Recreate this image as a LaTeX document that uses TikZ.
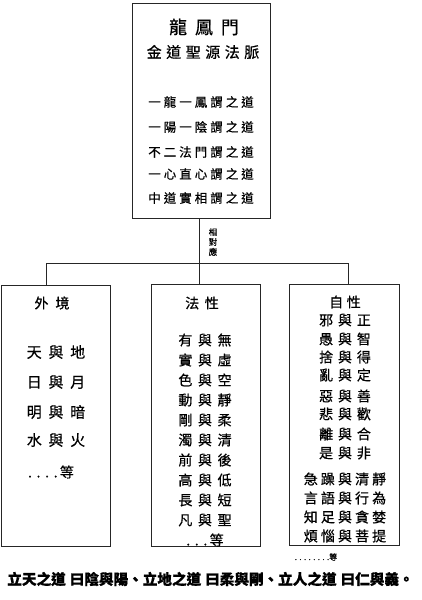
\documentclass[tikz,border=0pt]{standalone}
\usepackage{fontspec}
\newfontfamily\cjk{Noto Sans CJK TC}[FakeBold=0.6]
\usetikzlibrary{positioning}
\tikzset{
  box/.style={draw=black!85, line width=1pt, inner sep=0pt},
  link/.style={draw=black!85, line width=1pt},
  word/.style={inner sep=0pt, font=\cjk\fontsize{14}{14}\selectfont\addfontfeature{LetterSpace=40}},
}

\begin{document}
\begin{tikzpicture}[x=1pt,y=-1pt]
\useasboundingbox[fill=white] (0,0) rectangle (421,600);

% boxes
\node[box, minimum width=138, minimum height=215] (top) at (201,110.5) {};
\node[box, minimum width=109, minimum height=261] (lbox) at (55.5,415.5) {};
\node[box, minimum width=109, minimum height=262] (mbox) at (205.5,415) {};
\node[box, minimum width=110, minimum height=261] (rbox) at (344,414.5) {};

% connectors
\coordinate (hub) at (199,263);
\coordinate (ldrop) at (46,263);
\coordinate (rdrop) at (348,263);
\draw[link] (top.south -| hub) -- (hub);
\draw[link] (ldrop) -- (rdrop);
\draw[link] (ldrop) -- (ldrop |- lbox.north);
\draw[link] (hub) -- (hub |- mbox.north);
\draw[link] (rdrop) -- (rdrop |- rbox.north);
\node[inner sep=0pt, font=\cjk\fontsize{8.5}{10}\selectfont, align=center] (corr) at (213,242) {相\\對\\應};

% top box
\node[word, font=\cjk\fontsize{18}{18}\selectfont\addfontfeature{LetterSpace=44}] (title) at (204,27) {龍鳳門};
\node[word, font=\cjk\fontsize{15}{15}\selectfont\addfontfeature{LetterSpace=30}] (sub) at (203,52) {金道聖源法脈};
\foreach \t/\y [count=\i] in {一龍一鳳謂之道/102, 一陽一陰謂之道/127, 不二法門謂之道/152, 一心直心謂之道/174, 中道實相謂之道/198}
  \node[word, font=\cjk\fontsize{12.5}{12.5}\selectfont\addfontfeature{LetterSpace=24}] (t\i) at (201,\y) {\t};

% left box
\node[word, font=\cjk\fontsize{14}{14}\selectfont\addfontfeature{LetterSpace=50}] (lhead) at (52,303) {外境};
\foreach \t/\y [count=\i] in {天與地/352, 日與月/382, 明與暗/412, 水與火/440}
  \node[word, font=\cjk\fontsize{15}{15}\selectfont\addfontfeature{LetterSpace=45}] (l\i) at (56,\y) {\t};
\node[word, font=\cjk\fontsize{14}{14}\selectfont] (lmore) at (51,472) {.\,\,.\,\,.\,\,.\,等};

% middle box
\node[word] (mhead) at (202,303) {法性};
\foreach \t/\y [count=\i] in {有與無/340, 實與虛/360, 色與空/380, 動與靜/400, 剛與柔/420, 濁與清/440, 前與後/460, 高與低/480, 長與短/500, 凡與聖/520}
  \node[word] (m\i) at (205,\y) {\t};
\node[word, font=\cjk\fontsize{14}{14}\selectfont] (mmore) at (205,540) {.\,\,.\,\,.\,等};

% right box
\node[word, font=\cjk\fontsize{14}{14}\selectfont\addfontfeature{LetterSpace=25}] (rhead) at (345,302) {自性};
\foreach \t/\y [count=\i] in {邪與正/320, 愚與智/339, 捨與得/357, 亂與定/375, 惡與善/396, 悲與歡/414, 離與合/434, 是與非/453}
  \node[word, font=\cjk\fontsize{14}{14}\selectfont\addfontfeature{LetterSpace=35}] (r\i) at (345,\y) {\t};
\foreach \t/\y [count=\i] in {急躁與清靜/479, 言語與行為/498, 知足與貪婪/517, 煩惱與菩提/536}
  \node[word, font=\cjk\fontsize{14}{14}\selectfont\addfontfeature{LetterSpace=22}] (s\i) at (345,\y) {\t};
\node[inner sep=0pt, font=\cjk\fontsize{8}{8}\selectfont] (rmore) at (316,557) {. . . . . . . .等};

% motto
\node[inner sep=0pt, font=\cjk\bfseries\fontsize{14.6}{14.6}\selectfont] (motto) at (210.5,579) {立天之道\hspace{4pt}曰陰與陽、立地之道\hspace{4pt}曰柔與剛、立人之道\hspace{4pt}曰仁與義。};
\end{tikzpicture}
\end{document}
